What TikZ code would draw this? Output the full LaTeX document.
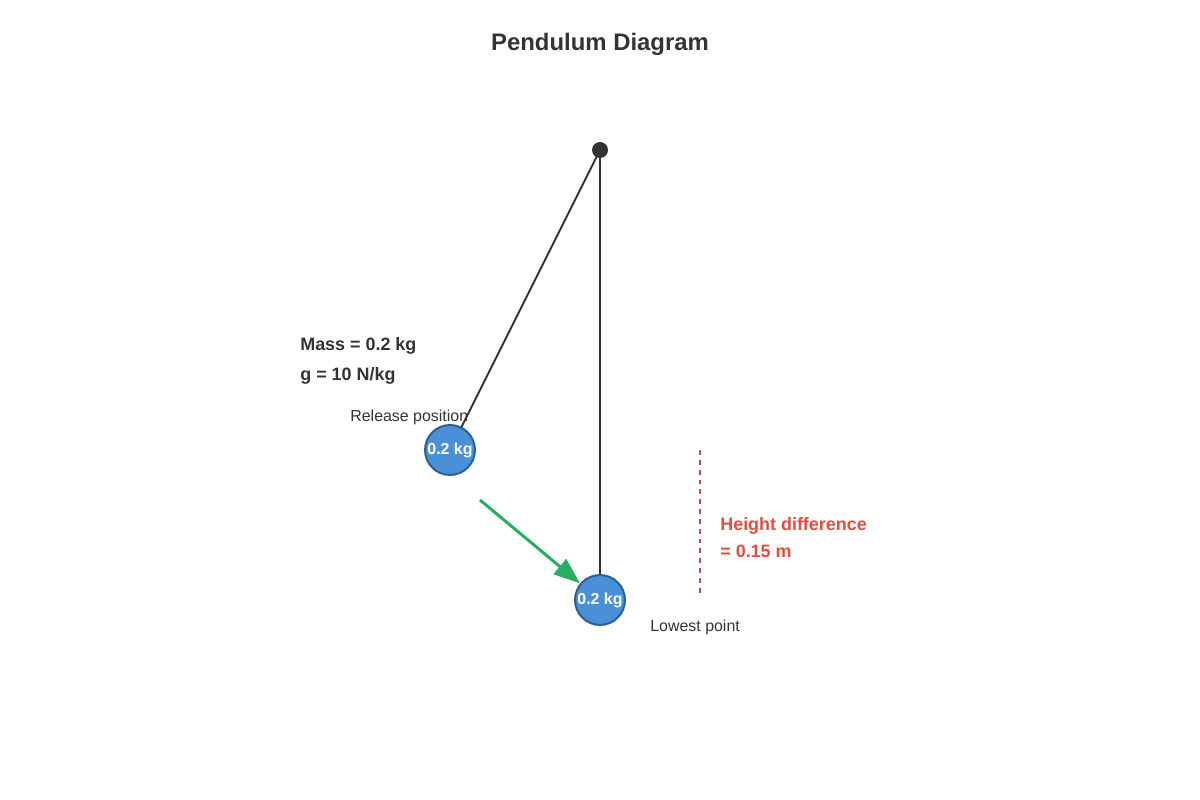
\documentclass[tikz,border=0pt]{standalone}
\usepackage{fontspec}
\setmainfont{Liberation Sans}
\usepackage{xcolor}
\usetikzlibrary{arrows.meta}

\definecolor{inkdark}{HTML}{333333}
\definecolor{massblue}{HTML}{4A90D9}
\definecolor{massedge}{HTML}{2A5F94}
\definecolor{swinggreen}{HTML}{27AE60}
\definecolor{heightred}{HTML}{E74C3C}
\definecolor{dashred}{HTML}{C0504D}

\tikzset{
	bob/.style={circle, draw=massedge, line width=1.1pt, fill=massblue, minimum size=50*0.02cm, inner sep=0pt, text=white, font=\fontsize{9.07}{11}\selectfont\bfseries},
	note/.style={anchor=west, inner sep=0pt, text=inkdark, font=\fontsize{9.07}{11}\selectfont},
	given/.style={anchor=west, inner sep=0pt, text=inkdark, font=\fontsize{10.2}{12}\selectfont\bfseries},
	string/.style={draw=inkdark, line width=1.1pt}
}

\begin{document}
\begin{tikzpicture}[x=0.02cm, y=-0.02cm]
			\useasboundingbox (0,0) rectangle (1200,800);

			\node (title) at (600,44) {\fontsize{13.6}{16}\selectfont\bfseries\color{inkdark}Pendulum Diagram};

			\coordinate (pivot) at (600,150);
			\coordinate (release centre) at (450,450);
			\coordinate (lowest centre) at (600,600);

			% strings
			\begin{scope}
				\draw [string] (pivot) -- (release centre);
				\draw [string] (pivot) -- (lowest centre);
			\end{scope}
			\fill [inkdark] (pivot) circle (8);

			% bobs
			\node [bob] (release) at (release centre) {0.2 kg};
			\node [bob] (lowest) at (lowest centre) {0.2 kg};

			\coordinate (swing start) at (480,500);
			\draw [swinggreen, line width=1.7pt, -{Triangle[length=15pt, width=11pt]}] (swing start) -- (lowest);

			% height marker
			\coordinate (marker top) at (700,450);
			\coordinate (marker bottom) at (700,595);
			\draw [dashred, line width=1.1pt, dash pattern=on 2.8pt off 2.8pt] (marker top) -- (marker bottom);

			\node [given] (mass) at (300,346) {Mass = 0.2 kg};
			\node [given] (gravity) at (300,376) {g = 10 N/kg};
			\node [note] (release label) at (350,417) {Release position};
			\node [note] (lowest label) at (650,627) {Lowest point};
			\node [given, text=heightred] (height a) at (720,526) {Height difference};
			\node [given, text=heightred] (height b) at (720,551) {= 0.15 m};
		\end{tikzpicture}
\end{document}
